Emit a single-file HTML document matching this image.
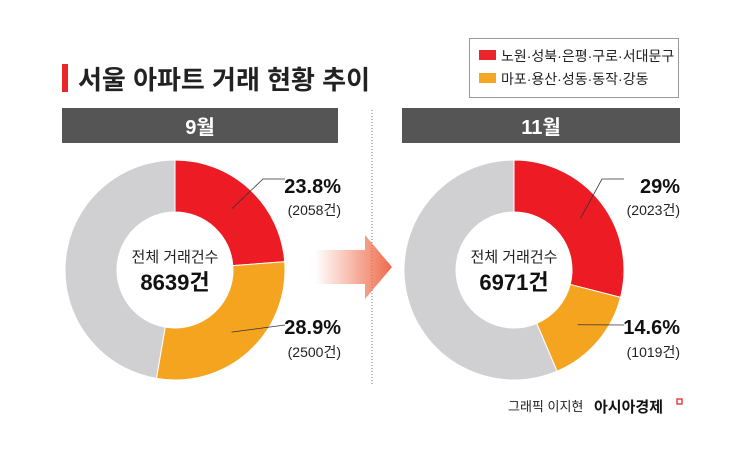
<!DOCTYPE html>
<html><head><meta charset="utf-8"><style>
body{margin:0;background:#fff;}
svg text{font-family:"Liberation Sans","Noto Sans CJK KR",sans-serif;}
</style></head><body>
<svg width="745" height="461" viewBox="0 0 745 461" xmlns="http://www.w3.org/2000/svg">
<defs><linearGradient id="ag" x1="0" x2="1"><stop offset="0" stop-color="#f07050" stop-opacity="0"/><stop offset="1" stop-color="#ee6a48"/></linearGradient></defs>
<rect x="62" y="64" width="6" height="28" fill="#e8262b"/>
<text x="78" y="89" font-size="26" font-weight="bold" fill="#222">서울 아파트 거래 현황 추이</text>
<g>
<rect x="469.5" y="38.5" width="209" height="59" fill="#fff" stroke="#999"/>
<rect x="479" y="50" width="17" height="10" fill="#e8262b"/>
<text x="501" y="61" font-size="14" fill="#222">노원·성북·은평·구로·서대문구</text>
<rect x="479" y="73" width="17" height="10" fill="#f5a623"/>
<text x="501" y="84" font-size="14" fill="#222">마포·용산·성동·동작·강동</text>
</g>
<rect x="62" y="108" width="276" height="35" fill="#555"/>
<text x="200" y="134" font-size="20" font-weight="bold" fill="#fff" text-anchor="middle">9월</text>
<rect x="402" y="108" width="278" height="35" fill="#555"/>
<text x="541" y="134" font-size="20" font-weight="bold" fill="#fff" text-anchor="middle">11월</text>
<line x1="372" y1="110" x2="372" y2="386" stroke="#777" stroke-dasharray="1,2"/>
<path d="M315 250 H365 V235 L392 267 L365 299 V284 H315 Z" fill="url(#ag)"/>
<g id="donuts"></g>
<text x="508" y="411" font-size="13" fill="#222">그래픽 이지현</text>
<text x="594" y="412" font-size="15" font-weight="bold" fill="#111">아시아경제</text>
<rect x="677" y="399" width="5" height="5" fill="none" stroke="#e8262b" stroke-width="1.3"/>
</svg>
<script>
const months=["9월","11월"];
const totals=["8639건","6971건"];
const redPct=[23.8,29];
const orangePct=[28.9,14.6];
const redLabels=["23.8%","29%"];
const redCounts=["(2058건)","(2023건)"];
const orangeLabels=["28.9%","14.6%"];
const orangeCounts=["(2500건)","(1019건)"];
const NS="http://www.w3.org/2000/svg";
const g=document.getElementById("donuts");
const cx=[175,514],cy=270,R=110,r=58;
function pt(x,y,rad,p){const a=p/100*2*Math.PI;return [x+rad*Math.sin(a),y-rad*Math.cos(a)];}
function arc(x,p0,p1){
 const l=(p1-p0)>50?1:0;const a=pt(x,cy,R,p0),b=pt(x,cy,R,p1),c=pt(x,cy,r,p1),d=pt(x,cy,r,p0);
 return `M${a} A${R},${R} 0 ${l} 1 ${b} L${c} A${r},${r} 0 ${l} 0 ${d}Z`;}
function mk(tag,at,txt){const e=document.createElementNS(NS,tag);for(const k in at)e.setAttribute(k,at[k]);if(txt)e.textContent=txt;g.appendChild(e);return e;}
for(let i=0;i<2;i++){
 const x=cx[i];
 const segs=[[0,redPct[i],"#ed1c24","slice-red"],[redPct[i],redPct[i]+orangePct[i],"#f5a41f","slice-orange"],[redPct[i]+orangePct[i],99.999,"#d0d0d2","slice-gray"]];
 for(const s of segs){const e=mk("path",{d:arc(x,s[0],s[1]),fill:s[2],stroke:"#fff","stroke-width":1});
  
  }
 const t1=mk("text",{x:x,y:cy-8,"font-size":15,"text-anchor":"middle",fill:"#222"},"전체 거래건수");
 
 
 const t2=mk("text",{x:x,y:cy+20,"font-size":22,"font-weight":"bold","text-anchor":"middle",fill:"#111"},totals[i]);
 
 
 const rm=pt(x,cy,(R+r)/2,redPct[i]/2);
 const lx=x+130;
 mk("polyline",{points:`${rm} ${x+88},${cy-91} ${x+110},${cy-91}`,fill:"none",stroke:"#333","stroke-width":0.8});
 const a=mk("text",{x:lx+36,y:cy-77,"font-size":20,"font-weight":"bold","text-anchor":"end",fill:"#111"},redLabels[i]);
 
 
 mk("text",{x:lx+36,y:cy-55,"font-size":14,"text-anchor":"end",fill:"#222"},redCounts[i]);
 const om=pt(x,cy,(R+r)/2,redPct[i]+orangePct[i]/2);
 mk("line",{x1:om[0],y1:om[1],x2:x+110,y2:cy+55,stroke:"#333","stroke-width":0.8});
 const b=mk("text",{x:lx+36,y:cy+64,"font-size":20,"font-weight":"bold","text-anchor":"end",fill:"#111"},orangeLabels[i]);
 
 
 mk("text",{x:lx+36,y:cy+87,"font-size":14,"text-anchor":"end",fill:"#222"},orangeCounts[i]);
}
</script>
</body></html>
